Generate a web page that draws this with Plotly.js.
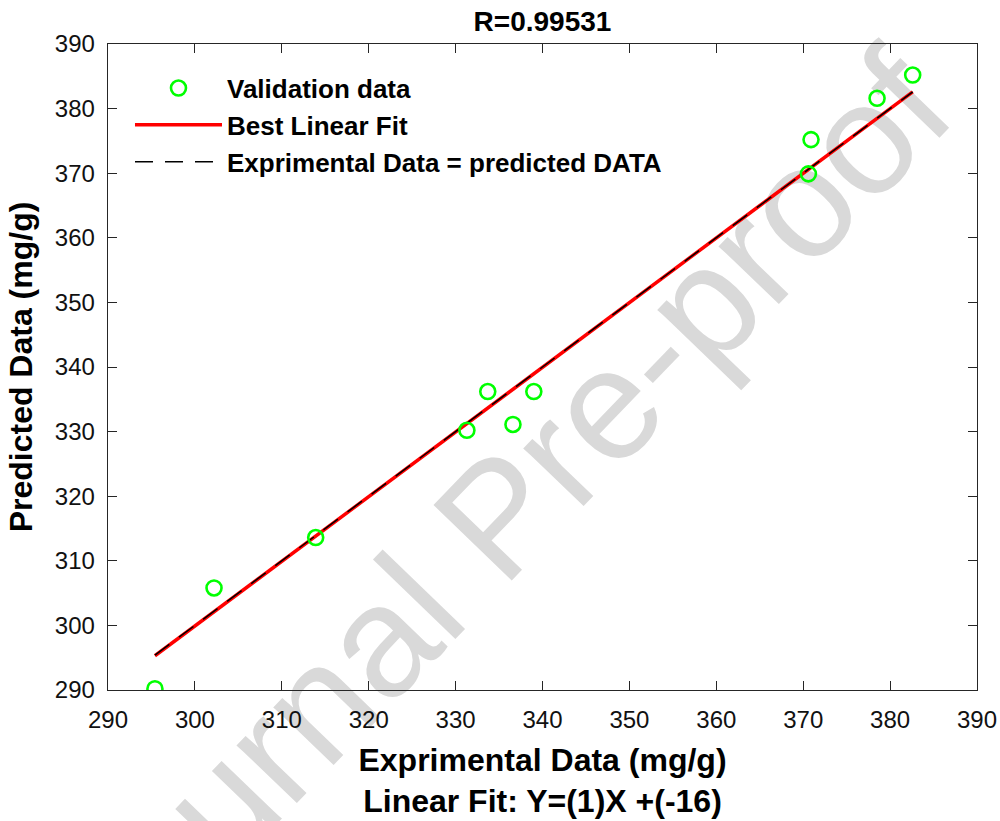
<!DOCTYPE html>
<html>
<head>
<meta charset="utf-8">
<script src="https://cdn.plot.ly/plotly-3.0.1.min.js"></script>
<style>html,body{margin:0;padding:0;background:#fff;}#chart{width:1000px;height:821px;}</style>
</head>
<body>
<div id="chart"></div>
<script>
// Validation data
var expX  = [295.4, 302.2, 313.9, 331.3, 333.7, 336.6, 339.0, 370.6, 370.9, 378.5, 382.6];
var predY = [290.2, 305.8, 313.6, 330.2, 336.2, 331.1, 336.2, 369.9, 375.2, 381.6, 385.2];
// Best linear fit endpoints
var fitX = [295.4, 382.6];
var fitY = [295.3, 382.6];
// Experimental = predicted line
var idX = [295.4, 382.6];
var idY = [295.4, 382.6];
var tickVals = [290, 300, 310, 320, 330, 340, 350, 360, 370, 380, 390];
var tickText = ['290', '300', '310', '320', '330', '340', '350', '360', '370', '380', '390'];

var FONT = '"Liberation Sans", Arial, Helvetica, sans-serif';

var traces = [
  {x: fitX, y: fitY, mode: 'lines', name: 'Best Linear Fit', legendrank: 2,
   line: {color: '#ff0000', width: 3.5}},
  {x: idX, y: idY, mode: 'lines', name: 'Exprimental Data = predicted DATA', legendrank: 3,
   line: {color: '#000000', width: 1.5, dash: '18px,12px'}},
  {x: expX, y: predY, mode: 'markers', name: 'Validation data', legendrank: 1,
   marker: {symbol: 'circle-open', size: 15, color: '#00ff00', line: {width: 2.6, color: '#00ff00'}}}
];

var axisCommon = {
  range: [290, 390], tickvals: tickVals, ticktext: tickText,
  ticks: 'inside', ticklen: 9, tickwidth: 1, tickcolor: '#262626',
  showline: true, linecolor: '#262626', linewidth: 1.3, mirror: 'ticks',
  showgrid: false, zeroline: false,
  tickfont: {family: FONT, size: 24, color: '#111'}
};

var layout = {
  width: 1000, height: 821,
  margin: {l: 108, r: 23, t: 44, b: 131},
  paper_bgcolor: '#ffffff', plot_bgcolor: 'rgba(0,0,0,0)',
  font: {family: FONT, color: '#000'},
  title: {text: '<b>R=0.99531</b>', font: {family: FONT, size: 28, color: '#000'},
          x: 0.5, xref: 'paper', y: 0.974, yref: 'container', yanchor: 'middle'},
  xaxis: Object.assign({}, axisCommon, {
    ticklabelstandoff: 8,
    title: {text: '<b>Exprimental Data (mg/g)</b><br><b>Linear Fit: Y=(1)X +(-16)</b>',
            font: {family: FONT, size: 32, color: '#000'}, standoff: 16}
  }),
  yaxis: Object.assign({}, axisCommon, {
    ticklabelstandoff: 7,
    title: {text: '<b>Predicted Data (mg/g)</b>', font: {family: FONT, size: 32, color: '#000'}, standoff: 12}
  }),
  showlegend: true,
  legend: {x: 0.0253, y: 0.968, xanchor: 'left', yanchor: 'top', bgcolor: 'rgba(0,0,0,0)',
           font: {family: FONT, size: 26, color: '#000', weight: 'bold'}, itemwidth: 87, tracegroupgap: 0},
  shapes: [{
    type: 'rect', xref: 'paper', yref: 'paper', layer: 'below',
    x0: 0.434, x1: 0.436, y0: 0.283, y1: 0.285,
    line: {width: 0}, fillcolor: 'rgba(0,0,0,0)',
    label: {text: 'Journal Pre-proof', textangle: -46, textposition: 'middle center',
            font: {family: FONT, size: 158, color: '#d9d9d9'}}
  }]
};

Plotly.newPlot('chart', traces, layout, {displayModeBar: false, staticPlot: true});
</script>
</body>
</html>
